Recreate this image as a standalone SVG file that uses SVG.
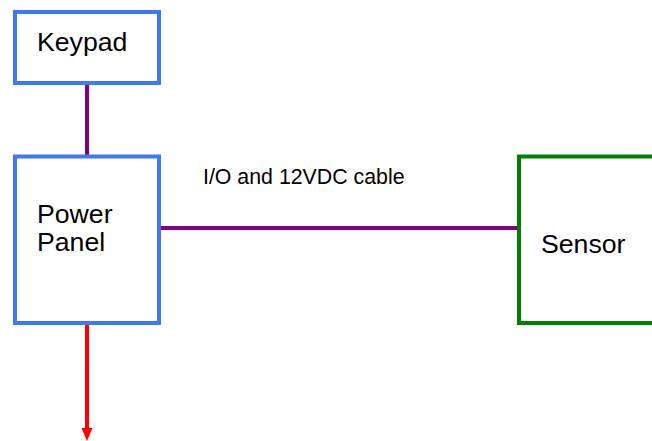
<svg xmlns="http://www.w3.org/2000/svg" width="652" height="441" viewBox="0 0 652 441">
  <style>
    .box { fill: #ffffff; stroke-width: 4; }
    .blue { stroke: #3c78f8; }
    .green { stroke: #008000; }
    .lbl { font-family: "Liberation Sans", Arial, sans-serif; font-size: 26.67px; fill: #000000; }
    .small { font-family: "Liberation Sans", Arial, sans-serif; font-size: 21.33px; fill: #000000; }
    .wire { stroke: #800080; stroke-width: 4; fill: none; }
    .out { stroke: #ff0000; stroke-width: 4; fill: none; }
  </style>
  <defs>
    <marker id="redArrow" markerUnits="userSpaceOnUse" viewBox="0 0 13 11" markerWidth="13" markerHeight="11" refX="0" refY="5.5" orient="auto">
      <path d="M0,0 L13,5.5 L0,11 z" fill="#ff0000"/>
    </marker>
  </defs>
  <rect width="652" height="441" fill="#ffffff"/>
  <g id="connectors">
    <line class="wire" x1="87" y1="85" x2="87" y2="155"/>
    <line class="wire" x1="161" y1="228" x2="517" y2="228"/>
    <line class="out" x1="87" y1="325" x2="87" y2="428" marker-end="url(#redArrow)"/>
    <text class="small" x="203" y="184">I/O and 12VDC cable</text>
  </g>
  <g id="keypad">
    <rect class="box blue" x="15" y="12" width="144" height="71"/>
    <text class="lbl" x="37" y="51">Keypad</text>
  </g>
  <g id="power-panel">
    <rect class="box blue" x="15" y="156.5" width="144" height="166.5"/>
    <text class="lbl" x="37" y="223">Power</text>
    <text class="lbl" x="37" y="251">Panel</text>
  </g>
  <g id="sensor">
    <rect class="box green" x="519" y="156.5" width="200" height="166.5"/>
    <text class="lbl" x="541" y="253">Sensor</text>
  </g>
</svg>
